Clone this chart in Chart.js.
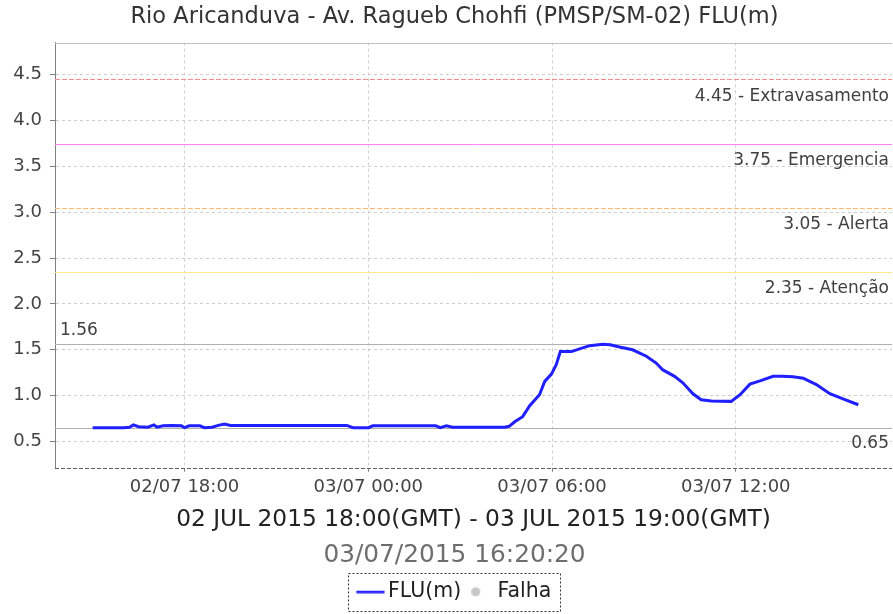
<!DOCTYPE html>
<html lang="pt-BR">

<head>
    <meta charset="UTF-8">
    <title>Rio Aricanduva - FLU(m)</title>
    <script src="https://cdn.jsdelivr.net/npm/chart.js"></script>
    <style>
        body {
            margin: 0;
            background: #fff;
        }

        .chart-container {
            width: 893px;
            height: 614px;
        }
    </style>
</head>

<body>
    <div class="chart-container">
        <canvas id="fluChart" width="893" height="614"></canvas>
    </div>

    <script>
        // time in hours counted from 02/07/2015 00:00
        const times = [
            15.00, 15.50, 16.00, 16.20, 16.33, 16.50, 16.80, 17.00, 17.10, 17.30,
            17.60, 17.90, 18.00, 18.15, 18.50, 18.65, 18.90, 19.10, 19.30, 19.50,
            20.50, 21.50, 22.50, 23.30, 23.50, 24.00, 24.15, 25.00, 26.20, 26.35,
            26.55, 26.75, 27.50, 28.45, 28.60, 28.78, 29.04, 29.27, 29.59, 29.76,
            29.98, 30.14, 30.27, 30.63, 31.00, 31.23, 31.65, 31.90, 32.20, 32.63,
            33.08, 33.40, 33.62, 34.00, 34.27, 34.60, 34.87, 35.20, 35.85, 36.14,
            36.46, 36.79, 37.22, 37.50, 37.87, 38.20, 38.63, 39.07, 39.50, 40.00
        ];
        const levels = [
            0.65, 0.65, 0.65, 0.655, 0.68, 0.66, 0.655, 0.68, 0.655, 0.67,
            0.675, 0.67, 0.65, 0.67, 0.67, 0.65, 0.655, 0.675, 0.69, 0.675,
            0.675, 0.675, 0.675, 0.675, 0.65, 0.65, 0.67, 0.67, 0.67, 0.65,
            0.67, 0.655, 0.655, 0.655, 0.665, 0.715, 0.77, 0.89, 1.01, 1.155,
            1.235, 1.34, 1.48, 1.48, 1.52, 1.545, 1.56, 1.555, 1.53, 1.50,
            1.43, 1.355, 1.28, 1.21, 1.14, 1.02, 0.955, 0.94, 0.937, 1.01,
            1.125, 1.16, 1.21, 1.21, 1.205, 1.19, 1.12, 1.02, 0.965, 0.90
        ];

        const xTickHours = [18, 24, 30, 36];
        const xTickLabels = ['02/07 18:00', '03/07 00:00', '03/07 06:00', '03/07 12:00'];
        const yTickValues = [0.5, 1.0, 1.5, 2.0, 2.5, 3.0, 3.5, 4.0, 4.5];
        const yTickLabels = ['0.5', '1.0', '1.5', '2.0', '2.5', '3.0', '3.5', '4.0', '4.5'];

        const thresholdValues = [4.45, 3.75, 3.05, 2.35];
        const thresholdNames = ['Extravasamento', 'Emergencia', 'Alerta', 'Atenção'];
        const maxLevel = 1.56;
        const minLevel = 0.65;

        const titleText = 'Rio Aricanduva - Av. Ragueb Chohfi (PMSP/SM-02) FLU(m)';
        const subtitleText = '03/07/2015 16:20:20';

        const xMin = 13.77, xMax = 41.1;
        const yMin = 0.213, yMax = 4.852;

        const thresholdColors = ['#ff8a8a', '#ff80ff', '#ffb870', '#fbe88a'];
        const thresholdDashes = [[5, 2], [], [5, 2], []];
        const legendShift = 10.5;
        const headerShift = 8.5;

        const FONT = '"DejaVu Sans", sans-serif';
        Chart.defaults.font.family = FONT;

        function legendIcon(kind) {
            const c = document.createElement('canvas');
            const g = c.getContext('2d');
            if (kind === 'line') {
                c.width = 30;
                c.height = 4;
                g.fillStyle = '#1f1fff';
                g.fillRect(1.5, 1, 28, 2.5);
            } else {
                c.width = 16;
                c.height = 12;
                g.fillStyle = '#c8c8c8';
                g.beginPath();
                g.arc(4.5, 6, 4.5, 0, Math.PI * 2);
                g.fill();
            }
            return c;
        }

        function hLine(ctx, area, py, color, dash) {
            const yy = Math.round(py) + 0.5;
            ctx.strokeStyle = color;
            ctx.setLineDash(dash);
            ctx.beginPath();
            ctx.moveTo(area.left, yy);
            ctx.lineTo(area.right, yy);
            ctx.stroke();
        }

        const overlayPlugin = {
            id: 'overlay',
            afterLayout(chart) {
                // legend and header text sit a little right of centre in the original
                chart.boxes.forEach(box => {
                    const text = box.options && box.options.text;
                    if (box === chart.legend) {
                        box.left += legendShift;
                        box.right += legendShift;
                    } else if (text === titleText || text === subtitleText) {
                        box.left += headerShift;
                        box.right += headerShift;
                    }
                });
            },
            beforeDatasetsDraw(chart) {
                const { ctx, chartArea: area } = chart;
                const y = chart.scales.y;
                ctx.save();
                ctx.lineWidth = 1;
                thresholdValues.forEach((v, i) => {
                    hLine(ctx, area, y.getPixelForValue(v), thresholdColors[i], thresholdDashes[i]);
                });
                hLine(ctx, area, y.getPixelForValue(maxLevel), '#b0b0b0', []);
                hLine(ctx, area, y.getPixelForValue(minLevel), '#b0b0b0', []);
                ctx.restore();
            },
            afterDatasetsDraw(chart) {
                const { ctx, chartArea: area } = chart;
                const y = chart.scales.y;
                ctx.save();
                ctx.font = '17px ' + FONT;
                ctx.fillStyle = '#404040';
                ctx.textBaseline = 'middle';
                ctx.textAlign = 'right';
                thresholdValues.forEach((v, i) => {
                    ctx.fillText(v.toFixed(2) + ' - ' + thresholdNames[i], area.right - 3, y.getPixelForValue(v) + 17);
                });
                ctx.fillText(minLevel.toFixed(2), area.right - 3, y.getPixelForValue(minLevel) + 16);
                ctx.textAlign = 'left';
                ctx.fillText(maxLevel.toFixed(2), area.left + 5, y.getPixelForValue(maxLevel) - 14);

                // plot frame
                ctx.lineWidth = 1;
                hLine(ctx, area, area.top, '#c0c0c0', []);
                hLine(ctx, area, area.bottom, '#606060', [4, 2]);
                ctx.restore();
            },
            afterDraw(chart) {
                const boxes = chart.legend && chart.legend.legendHitBoxes;
                if (!boxes || !boxes.length) return;
                const first = boxes[0];
                const last = boxes[boxes.length - 1];
                const ctx = chart.ctx;
                ctx.save();
                ctx.strokeStyle = '#303030';
                ctx.lineWidth = 1;
                ctx.setLineDash([2, 2]);
                const left = Math.round(first.left - 14) + 0.5;
                const right = Math.round(last.left + last.width + 9) + 0.5;
                const top = Math.round(first.top - 9) + 0.5;
                const bottom = Math.round(first.top + first.height + 9) + 0.5;
                ctx.strokeRect(left, top, right - left, bottom - top);
                ctx.restore();
            }
        };

        const ctx = document.getElementById('fluChart').getContext('2d');
        new Chart(ctx, {
            type: 'line',
            data: {
                datasets: [{
                    label: 'FLU(m)',
                    data: times.map((t, i) => ({ x: t, y: levels[i] })),
                    borderColor: '#1f1fff',
                    borderWidth: 3,
                    pointRadius: 0,
                    tension: 0
                }]
            },
            options: {
                responsive: false,
                animation: false,
                layout: {
                    padding: { top: 0, left: 0, right: 1, bottom: 2 }
                },
                plugins: {
                    tooltip: { enabled: false },
                    title: {
                        display: true,
                        text: titleText,
                        color: '#333',
                        font: { size: 22.5, weight: 'normal' },
                        padding: { top: 4, bottom: 11.5 }
                    },
                    subtitle: {
                        display: true,
                        position: 'bottom',
                        text: subtitleText,
                        color: '#6e6e6e',
                        font: { size: 24.8, weight: 'normal' },
                        padding: { top: 6, bottom: 1 }
                    },
                    legend: {
                        display: true,
                        position: 'bottom',
                        weight: 2000,
                        labels: {
                            usePointStyle: true,
                            boxWidth: 16,
                            padding: 10,
                            color: '#222',
                            font: { size: 20.5 },
                            generateLabels: () => [
                                { text: 'FLU(m)', pointStyle: legendIcon('line'), fillStyle: 'transparent', strokeStyle: 'transparent', lineWidth: 0, fontColor: '#222', datasetIndex: 0 },
                                { text: 'Falha', pointStyle: legendIcon('dot'), fillStyle: 'transparent', strokeStyle: 'transparent', lineWidth: 0, fontColor: '#222' }
                            ]
                        }
                    }
                },
                scales: {
                    x: {
                        type: 'linear',
                        min: xMin,
                        max: xMax,
                        afterBuildTicks: s => { s.ticks = xTickHours.map(v => ({ value: v })); },
                        afterFit: s => { s.height = 67; },
                        ticks: {
                            autoSkip: false,
                            maxRotation: 0,
                            padding: 5,
                            color: '#444',
                            font: { size: 18 },
                            callback: (v, i) => xTickLabels[i]
                        },
                        grid: {
                            color: '#cfcfcf',
                            tickColor: '#808080',
                            tickLength: 4
                        },
                        border: { display: false, dash: [3, 3] },
                        title: {
                            display: true,
                            text: '02 JUL 2015 18:00(GMT) - 03 JUL 2015 19:00(GMT)',
                            color: '#222',
                            font: { size: 23.3 },
                            padding: { top: 0, bottom: 1 }
                        }
                    },
                    y: {
                        min: yMin,
                        max: yMax,
                        afterBuildTicks: s => { s.ticks = yTickValues.map(v => ({ value: v })); },
                        afterFit: s => { s.width = 55; },
                        ticks: {
                            padding: 8,
                            color: '#444',
                            font: { size: 18 },
                            callback: (v, i) => yTickLabels[i]
                        },
                        grid: {
                            color: '#cfcfcf',
                            tickColor: '#808080',
                            tickLength: 5
                        },
                        border: { display: true, color: '#808080', dash: [3, 3] }
                    }
                }
            },
            plugins: [overlayPlugin]
        });
    </script>
</body>

</html>
